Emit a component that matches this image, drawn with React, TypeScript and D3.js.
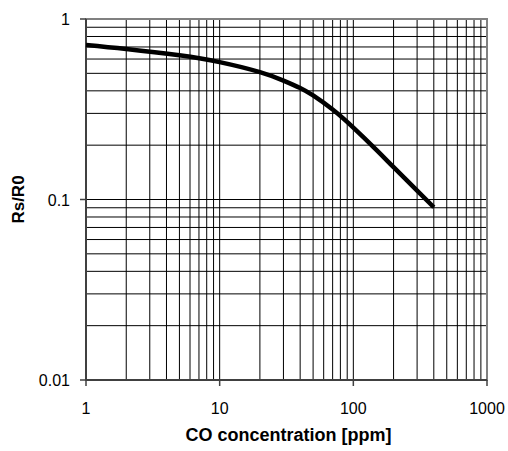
import React, { useRef, useEffect } from 'react';
import * as d3 from 'd3';

// CO sensitivity curve
const concentration = [1, 2, 5, 10, 20, 30, 40, 50, 70, 100, 150, 200, 300, 400];
const ratio = [0.718, 0.682, 0.629, 0.577, 0.508, 0.456, 0.415, 0.377, 0.315, 0.25, 0.187, 0.151, 0.112, 0.0906];

const xTicks = [1, 10, 100, 1000];
const yTicks = [0.01, 0.1, 1];
const xTickLabels = ['1', '10', '100', '1000'];
const yTickLabels = ['0.01', '0.1', '1'];

const xTitle = 'CO concentration [ppm]';
const yTitle = 'Rs/R0';

const App = () => {
    const ref = useRef<SVGSVGElement>(null);

    useEffect(() => {
        const svg = d3.select(ref.current);
        svg.selectAll('*').remove();

        const width = 508, height = 451;
        const margin = { top: 19, right: 21, bottom: 71, left: 86 };
        const font = 'Liberation Sans, Arial, sans-serif';

        const x = d3.scaleLog().domain([1, 1000]).range([margin.left, width - margin.right]);
        const y = d3.scaleLog().domain([0.01, 1]).range([height - margin.bottom, margin.top]);

        // minor + major gridlines, all values 1..9 per decade
        const xGrid: number[] = [];
        for (let d = 1; d < 1000; d *= 10) for (let k = 1; k < 10; k++) xGrid.push(d * k);
        const yGrid: number[] = [];
        for (let d = 0.01; d < 0.99; d *= 10) for (let k = 1; k < 10; k++) yGrid.push(d * k);

        const g = svg.append('g');

        g.selectAll('line.vx')
            .data(xGrid.filter(v => v > 1))
            .enter().append('line')
            .attr('x1', d => x(d)).attr('x2', d => x(d))
            .attr('y1', y(0.01)).attr('y2', y(1))
            .attr('stroke', '#000').attr('stroke-width', 1);

        g.selectAll('line.hy')
            .data(yGrid.filter(v => v > 0.0101))
            .enter().append('line')
            .attr('x1', x(1)).attr('x2', x(1000))
            .attr('y1', d => y(d)).attr('y2', d => y(d))
            .attr('stroke', '#000').attr('stroke-width', 1);

        // plot frame
        g.append('rect')
            .attr('x', x(1)).attr('y', y(1))
            .attr('width', x(1000) - x(1)).attr('height', y(0.01) - y(1))
            .attr('fill', 'none').attr('stroke', '#808080').attr('stroke-width', 2);

        // axis lines at left/bottom in darker grey
        g.append('line')
            .attr('x1', x(1)).attr('x2', x(1)).attr('y1', y(1)).attr('y2', y(0.01))
            .attr('stroke', '#404040').attr('stroke-width', 2);
        g.append('line')
            .attr('x1', x(1)).attr('x2', x(1000)).attr('y1', y(0.01)).attr('y2', y(0.01))
            .attr('stroke', '#404040').attr('stroke-width', 2);

        // tick marks
        g.selectAll('line.xt')
            .data(xTicks)
            .enter().append('line')
            .attr('x1', d => x(d)).attr('x2', d => x(d))
            .attr('y1', y(0.01)).attr('y2', y(0.01) + 6)
            .attr('stroke', '#404040').attr('stroke-width', 1.5);
        g.selectAll('line.yt')
            .data(yTicks)
            .enter().append('line')
            .attr('x1', x(1) - 6).attr('x2', x(1))
            .attr('y1', d => y(d)).attr('y2', d => y(d))
            .attr('stroke', '#404040').attr('stroke-width', 1.5);

        // tick labels
        g.selectAll('text.xl')
            .data(xTicks)
            .enter().append('text')
            .attr('x', d => x(d))
            .attr('y', y(0.01) + 34)
            .attr('text-anchor', 'middle')
            .style('font-family', font).style('font-size', '16px')
            .text((d, i) => xTickLabels[i]);
        g.selectAll('text.yl')
            .data(yTicks)
            .enter().append('text')
            .attr('x', x(1) - 16)
            .attr('y', d => y(d) + 6)
            .attr('text-anchor', 'end')
            .style('font-family', font).style('font-size', '16px')
            .text((d, i) => yTickLabels[i]);

        // axis titles
        g.append('text')
            .attr('x', (x(1) + x(1000)) / 2 + 2)
            .attr('y', 441)
            .attr('text-anchor', 'middle')
            .style('font-family', font).style('font-size', '18px').style('font-weight', 'bold')
            .text(xTitle);
        g.append('text')
            .attr('transform', `translate(24, ${(y(1) + y(0.01)) / 2}) rotate(-90)`)
            .attr('text-anchor', 'middle')
            .style('font-family', font).style('font-size', '17px').style('font-weight', 'bold')
            .text(yTitle);

        // the curve
        const line = d3.line<number>()
            .x(d => x(d))
            .y((d, i) => y(ratio[i]))
            .curve(d3.curveNatural);

        g.append('path')
            .datum(concentration)
            .attr('fill', 'none')
            .attr('stroke', '#000')
            .attr('stroke-width', 4.5)
            .attr('d', line);
    }, []);

    return (
        <svg ref={ref} width={508} height={451}
            style={{ position: 'absolute', left: 0, top: 0, background: '#fff' }} />
    );
};

export default App;
